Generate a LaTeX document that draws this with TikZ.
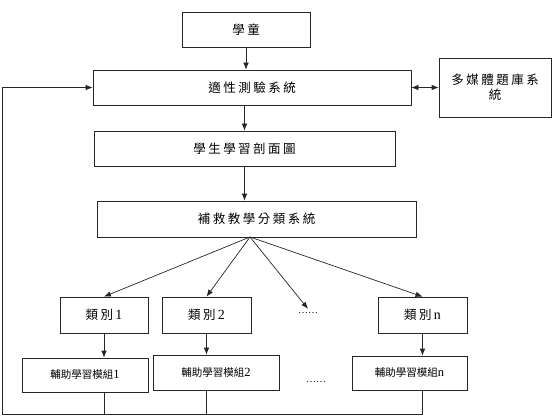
\documentclass[tikz,border=0pt]{standalone}
\usepackage{fontspec}
\usetikzlibrary{arrows.meta}
\setmainfont{Liberation Serif}
\newfontfamily\cjk[LetterSpace=20]{Noto Sans CJK TC}
\newfontfamily\cjksmall{Noto Sans CJK TC}
\tikzset{
  box/.style={draw=black!85, line width=0.7pt, inner sep=2pt, font=\fontsize{12.5}{15}\selectfont},
  line/.style={draw=black!85, line width=0.7pt}
}
\begin{document}
\begin{tikzpicture}[>={Latex[length=7pt,width=5.5pt]}, x=1pt, y=-1pt]
        \useasboundingbox (0,0) rectangle (558,420);
        % Nodes
        \node[box, minimum width=128, minimum height=35] (child) at (246,29.5) {\cjk 學童};
        \node[box, minimum width=318, minimum height=35] (test) at (252,87.5) {\cjk 適性測驗系統};
        \node[box, minimum width=112, minimum height=59, align=center] (bank) at (495,87.5) {\cjk 多媒體題庫系\\\cjk 統};
        \node[box, minimum width=301, minimum height=35] (profile) at (244.5,148.5) {\cjk 學生學習剖面圖};
        \node[box, minimum width=319, minimum height=36] (remedy) at (256.5,219) {\cjk 補救教學分類系統};
        \coordinate (hub) at (250,237);

        \node[box, minimum width=88, minimum height=36] (cat1) at (104,315) {{\cjk 類別}\,{\fontsize{14}{15}\selectfont 1}};
        \node[box, minimum width=89, minimum height=36] (cat2) at (206.5,315) {{\cjk 類別}\,{\fontsize{14}{15}\selectfont 2}};
        \node (catdots) at (308,313) {……};
        \node[box, minimum width=89, minimum height=36] (catn) at (422.5,315) {{\cjk 類別}\,{\fontsize{14}{15}\selectfont n}};

        \node[box, minimum width=126, minimum height=34] (mod1) at (85,375) {{\cjksmall\fontsize{10.5}{12}\selectfont 輔助學習模組}1};
        \node[box, minimum width=126, minimum height=35] (mod2) at (216,372.5) {{\cjksmall\fontsize{10.5}{12}\selectfont 輔助學習模組}2};
        \node (moddots) at (316,382) {……};
        \node[box, minimum width=115, minimum height=34] (modn) at (409.5,373) {{\cjksmall\fontsize{10.5}{12}\selectfont 輔助學習模組}n};
        \coordinate (fb) at (2,414);

        % Arrows
        \draw[line, ->] (child) -- (child |- test.north);
        \draw[line, <->] (test) -- (bank);
        \draw[line, ->] (profile.north |- test.south) -- (profile.north);
        \draw[line, ->] (profile.south) -- (profile.south |- remedy.north);
        \foreach \t in {cat1, cat2, catdots, catn}
          \draw[line, ->] (hub) -- (\t.north);
        \foreach \c/\m in {cat1/mod1, cat2/mod2, catn/modn}
          \draw[line, ->] (\c) -- (\c |- \m.north);

        % Feedback
        \foreach \c/\m in {cat1/mod1, cat2/mod2, catn/modn}
          \draw[line] (\c |- \m.south) -- (\c |- fb);
        \draw[line] (catn |- fb) -- (fb);
        \draw[line, ->] (fb) -- (fb |- test) -- (test.west);
    \end{tikzpicture}
\end{document}
